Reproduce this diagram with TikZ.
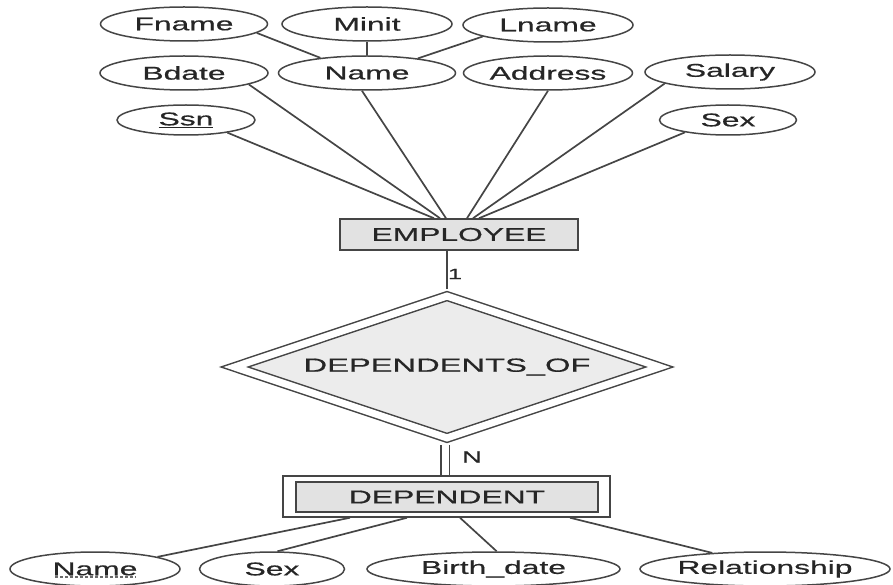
\documentclass[tikz,border=0pt]{standalone}
\usepackage{fontspec}
\setmainfont{Liberation Sans}
\newfontfamily\erfont[FakeStretch=1.72,FakeBold=0.6]{Liberation Sans}
\usetikzlibrary{shapes.geometric}
\definecolor{ln}{HTML}{454545}
\definecolor{tx}{HTML}{262626}
\definecolor{fl}{HTML}{E2E2E2}
\definecolor{fd}{HTML}{ECECEC}
\begin{document}
\begin{tikzpicture}[x=1pt,y=-1pt,
  txt/.style={text=tx,font=\erfont\fontsize{18.5}{20}\selectfont},
  attr/.style={txt,ellipse,draw=ln,line width=1.5pt,inner sep=0pt,minimum height=34pt},
  ent/.style={txt,draw=ln,line width=1.5pt,inner sep=0pt},
  conn/.style={draw=ln,line width=1.7pt},
  card/.style={text=tx,inner sep=0pt,font=\erfont\fontsize{16}{18}\selectfont}]
\useasboundingbox (0,0) rectangle (893,585);

% top attributes
\node[attr,minimum width=167pt] (fname) at (184,24) {Fname};
\node[attr,minimum width=170pt] (minit) at (367,24) {Minit};
\node[attr,minimum width=170pt] (lname) at (548,25) {Lname};
\node[attr,minimum width=168pt] (bdate) at (184,73) {Bdate};
\node[attr,minimum width=177pt] (name) at (367,73) {Name};
\node[attr,minimum width=169pt] (address) at (548,73) {Address};
\node[attr,minimum width=170pt] (salary) at (730,72) {Salary};
\node[attr,minimum width=138pt,minimum height=30pt] (ssn) at (186,120) {\underline{Ssn}};
\node[attr,minimum width=137pt,minimum height=30pt] (sex) at (728,120) {Sex};

% entity EMPLOYEE
\node[ent,fill=fl,minimum width=238pt,minimum height=31pt] (emp) at (459,234.5) {EMPLOYEE};

% relationship
\node[txt,diamond,draw=ln,line width=1.5pt,double=white,double distance=7pt,fill=fd,
      shape aspect=2.94,minimum width=429pt,minimum height=146pt,inner sep=0pt,outer sep=5pt,
      font=\erfont\fontsize{19}{21}\selectfont] (rel) at (447,367) {DEPENDENTS\_OF};

% weak entity DEPENDENT
\node[ent,fill=white,minimum width=327pt,minimum height=41pt] (dep) at (446.5,496.5) {};
\node[ent,fill=fl,minimum width=302pt,minimum height=30pt] (depin) at (447,497) {DEPENDENT};

% bottom attributes
\node[attr,minimum width=170pt] (dname) at (95,569) {Name};
\node[attr,minimum width=145pt] (dsex) at (272,569) {Sex};
\node[attr,minimum width=253pt] (bdt) at (493.5,569) {Birth\_date};
\node[attr,minimum width=250pt] (relship) at (765,569) {Relationship};
\draw[ln!80,line width=1.2pt,dash pattern=on 3pt off 2pt]
  ([xshift=-40pt,yshift=-8pt]dname.center) -- ([xshift=41pt,yshift=-8pt]dname.center);

% cardinalities
\node[card,font=\erfont\fontsize{15}{17}\selectfont] (one) at (455,274) {1};
\node[card] (nlab) at (472,457) {N};

% composite attribute
\draw[conn] (fname.-7.5) -- (name.162.6);
\draw[conn] (minit) -- (name);
\draw[conn] (lname.190.3) -- (name.16.6);

% attributes to EMPLOYEE
\draw[conn] (ssn.-17) -- ([xshift=-25pt]emp.north);
\draw[conn] (bdate.-10.6) -- ([xshift=-19pt]emp.north);
\draw[conn] (name.254) -- ([xshift=-13pt]emp.north);
\draw[conn] (address.-90) -- ([xshift=8pt]emp.north);
\draw[conn] (salary.190.5) -- ([xshift=14pt]emp.north);
\draw[conn] (sex.196.3) -- ([xshift=20pt]emp.north);

% relationship links
\draw[conn] (rel.north) -- (rel.north |- emp.south);
\draw[conn,double=white,double distance=7pt] ([xshift=-2pt]rel.south) -- ([xshift=-2pt]rel.south |- dep.north);

% DEPENDENT attributes
\draw[conn] ([xshift=-96.5pt]dep.south) -- (dname.11);
\draw[conn] ([xshift=-39.5pt]dep.south) -- (dsex.73.6);
\draw[conn] ([xshift=13.5pt]dep.south) -- (bdt.80);
\draw[conn] ([xshift=123.5pt]dep.south) -- (relship.163);
\end{tikzpicture}
\end{document}
